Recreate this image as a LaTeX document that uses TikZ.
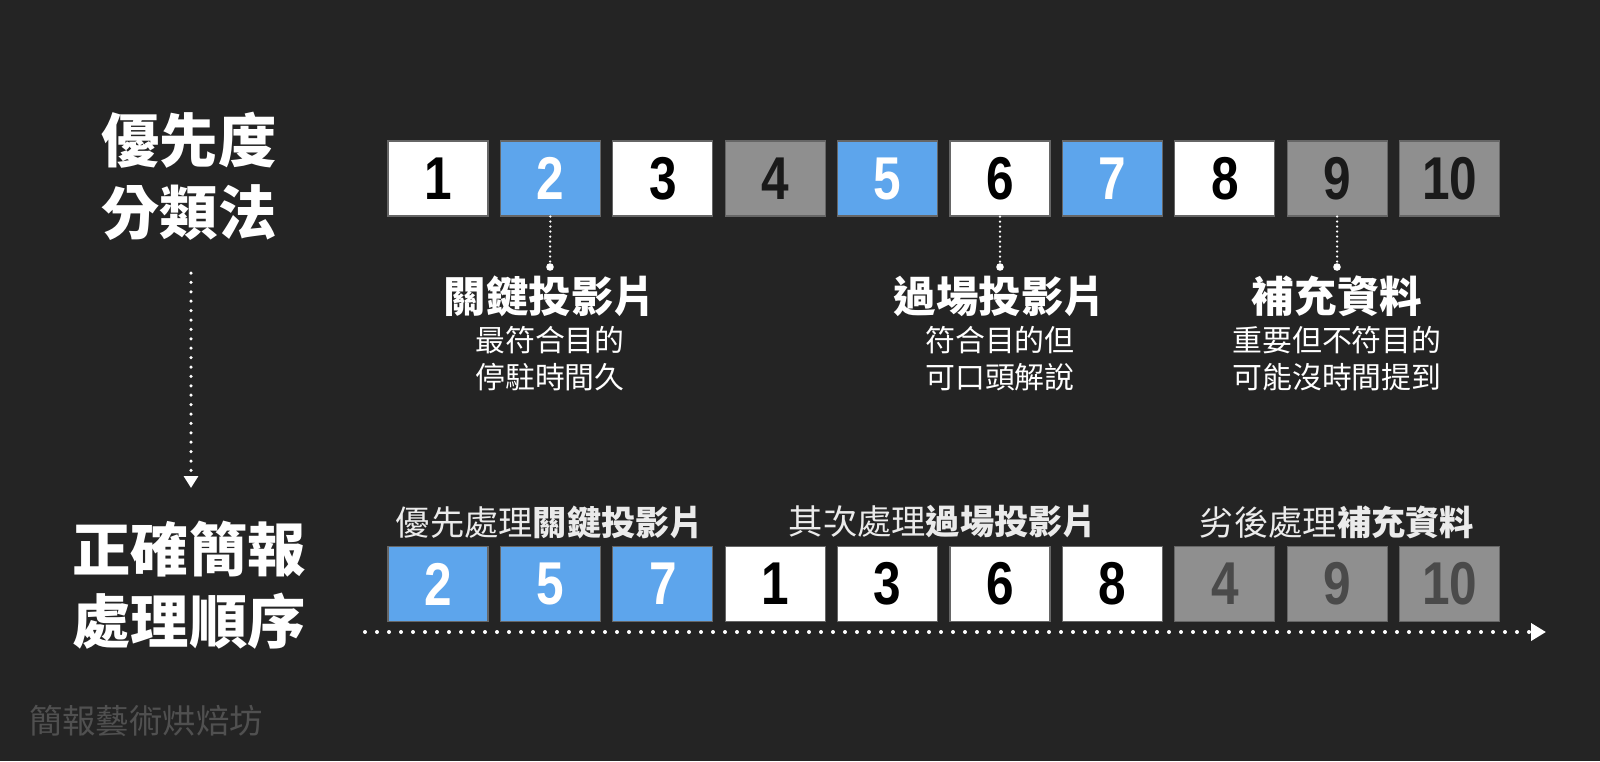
\documentclass[tikz,border=0pt]{standalone}
\usepackage{fontspec}
\setmainfont{Liberation Sans}
\newfontfamily\cjk{Noto Sans CJK TC}
\usetikzlibrary{
    arrows.meta,
    positioning
}
\definecolor{bgdark}{HTML}{242424}
\definecolor{slideblue}{HTML}{5DA5EC}
\definecolor{slidegray}{HTML}{8F8F8F}
\definecolor{numdark}{HTML}{1A1A1A}
\definecolor{numfaded}{HTML}{4A4A4A}
\definecolor{footgray}{HTML}{505050}
\tikzset{
    % --- Slide box (one numbered slide) ---
    slide/.style = {
        rectangle, draw=black!60, line width=0.3pt,
        minimum width=10mm, minimum height=7.5mm, inner sep=0pt,
        font=\fontsize{17.2}{18}\selectfont\bfseries
    },
    % --- Big title on the left ---
    title/.style = {
        font=\cjk\bfseries\fontsize{16.6}{20.6}\selectfont,
        text=white, align=center
    },
    % --- Category heading under the top row ---
    category/.style = {
        font=\cjk\bfseries\fontsize{12.1}{14}\selectfont,
        text=white, align=center
    },
    % --- Two lines of explanation ---
    remark/.style = {
        font=\cjk\fontsize{8.5}{10.5}\selectfont,
        text=white, align=center
    },
    % --- Group heading over the bottom row ---
    group/.style = {
        font=\cjk\fontsize{9.75}{12}\selectfont,
        text=white!92!black, align=center
    },
    % --- Fine dotted pointer ---
    pointer/.style = {
        white, line width=0.25mm, line cap=round,
        dash pattern=on 0pt off 0.5mm
    },
    % --- Dotted arrows ---
    flow dots/.style = {
        white, line width=0.4mm, line cap=round,
        dash pattern=on 0pt off 1.2mm,
        -{Triangle[length=1.5mm, width=1.7mm]}
    },
    step dots/.style = {
        white, line width=0.35mm, line cap=round,
        dash pattern=on 0pt off 0.94mm,
        -{Triangle[length=1.2mm, width=1.4mm]}
    }
}
\newcommand{\slidenum}[1]{\scalebox{0.82}[1]{#1}}

\begin{document}
\begin{tikzpicture}[x=0.1mm, y=-0.1mm]

% ---------------------------------------------------------
% Background
% ---------------------------------------------------------
\fill[bgdark] (0,0) rectangle (1600,761);
\useasboundingbox (0,0) rectangle (1600,761);

% ---------------------------------------------------------
% Left titles
% ---------------------------------------------------------
\node[title] (prio) at (189,176) {優先度\\分類法};
\node[title] (order) at (189,585) {正確簡報\\處理順序};

\coordinate (stepTop) at (191,273);
\coordinate (stepEnd) at (191,488);
\draw[step dots] (stepTop) -- (stepEnd);

% ---------------------------------------------------------
% Top row: slides by priority
% ---------------------------------------------------------
\foreach \n/\f/\t [count=\i] in {1/white/black, 2/slideblue/white,
        3/white/black, 4/slidegray/numdark, 5/slideblue/white,
        6/white/black, 7/slideblue/white, 8/white/black,
        9/slidegray/numdark, 10/slidegray/numdark} {
    \node[slide, fill=\f, text=\t] (top\n) at ({438+112.4*(\i-1)}, 178.5) {\slidenum{\n}};
}

% Pointers and categories
\foreach \n/\x in {2/550, 6/1000, 9/1337} {
    \coordinate (tip\n) at (\x,267);
    \draw[pointer] (top\n.south) -- (tip\n);
    \fill[white] (tip\n) circle (0.38mm);
}

\node[category] (keyHead) at (550,296) {關鍵投影片};
\node[remark] (keyNote) at (550,358.5) {最符合目的\\停駐時間久};

\node[category] (linkHead) at (1000,296) {過場投影片};
\node[remark] (linkNote) at (1000,358.5) {符合目的但\\可口頭解說};

\node[category] (extraHead) at (1337,296) {補充資料};
\node[remark] (extraNote) at (1337,358.5) {重要但不符目的\\可能沒時間提到};

% ---------------------------------------------------------
% Bottom row: order of work
% ---------------------------------------------------------
\foreach \n/\f/\t [count=\i] in {2/slideblue/white, 5/slideblue/white,
        7/slideblue/white, 1/white/black, 3/white/black, 6/white/black,
        8/white/black, 4/slidegray/numfaded, 9/slidegray/numfaded,
        10/slidegray/numfaded} {
    \node[slide, fill=\f, text=\t] (low\n) at ({438+112.4*(\i-1)}, 584) {\slidenum{\n}};
}

\node[group] (firstGroup) at (550,522) {優先處理{\bfseries 關鍵投影片}};
\node[group] (secondGroup) at (943,522) {其次處理{\bfseries 過場投影片}};
\node[group] (lastGroup) at (1337,522) {劣後處理{\bfseries 補充資料}};

\coordinate (lineStart) at (365,632);
\coordinate (lineEnd) at (1546,632);
\draw[flow dots] (lineStart) -- (lineEnd);

% ---------------------------------------------------------
% Footer
% ---------------------------------------------------------
\node[font=\cjk\fontsize{9.5}{11}\selectfont, text=footgray] (footer) at (146,721) {簡報藝術烘焙坊};

\end{tikzpicture}
\end{document}
